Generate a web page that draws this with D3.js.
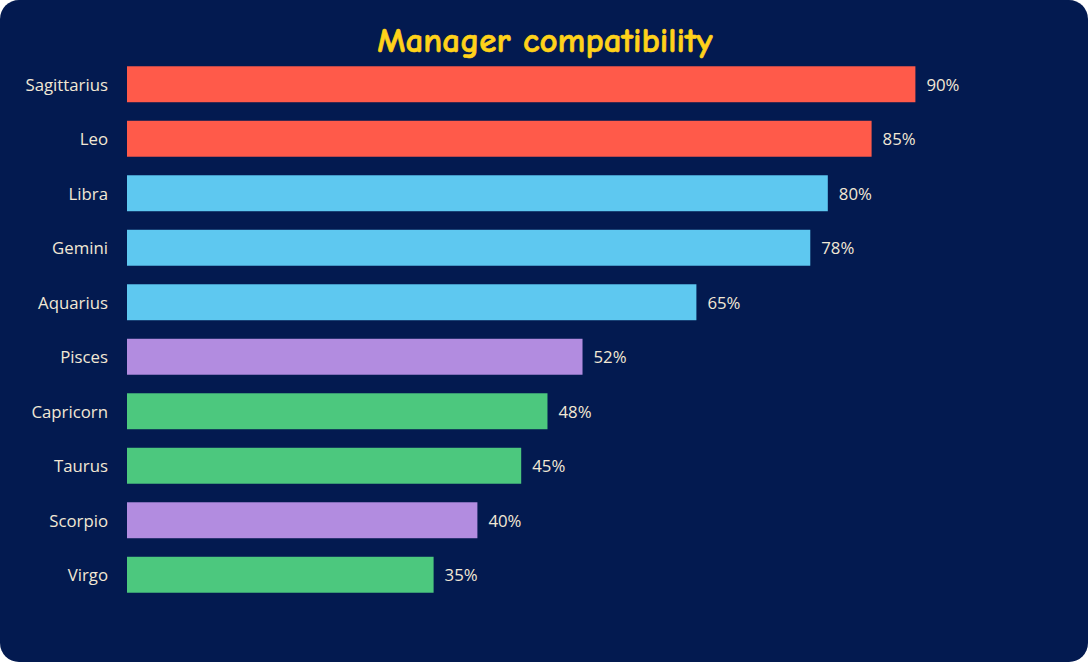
<!DOCTYPE html>
<html>
<head>
<meta charset="utf-8">
<script src="https://cdn.jsdelivr.net/npm/d3@7"></script>
<style>
  html, body { margin: 0; padding: 0; background: #fff; }
  svg { display: block; }
</style>
</head>
<body>
<div id="chart"></div>
<script>
// data
var signs = ["Sagittarius", "Leo", "Libra", "Gemini", "Aquarius", "Pisces", "Capricorn", "Taurus", "Scorpio", "Virgo"];
var scores = [90, 85, 80, 78, 65, 52, 48, 45, 40, 35];
var groups = ["fire", "fire", "air", "air", "air", "water", "earth", "earth", "water", "earth"];
var groupColors = { fire: "#ff5a4a", air: "#5ec8f0", water: "#b28ce0", earth: "#4cc87e" };

var W = 1090, H = 664;

var svg = d3.select("#chart").append("svg")
  .attr("width", W)
  .attr("height", H);

// rounded navy panel
svg.append("rect")
  .attr("x", 0).attr("y", 0)
  .attr("width", W - 2).attr("height", H - 2)
  .attr("rx", 19).attr("ry", 19)
  .attr("fill", "#031a50");

svg.append("text")
  .attr("x", 545).attr("y", 52)
  .attr("text-anchor", "middle")
  .attr("fill", "#ffd21a")
  .attr("stroke", "#ffd21a")
  .attr("stroke-width", 0.6)
  .style("font-family", "'Comic Sans MS', 'Comic Neue', 'Chalkboard', 'DejaVu Sans', sans-serif")
  .style("font-weight", "bold")
  .style("font-size", "35px")
  .text("Manager compatibility");

var x = d3.scaleLinear().domain([0, 100]).range([127, 1003]);
var y = d3.scaleBand().domain(signs).range([57, 602]).paddingInner(0.34).paddingOuter(0.17);

var rows = signs.map(function (s, i) {
  return { sign: s, value: scores[i], group: groups[i] };
});

svg.selectAll(".bar")
  .data(rows)
  .enter().append("rect")
  .attr("class", "bar")
  .attr("x", x(0))
  .attr("y", function (d) { return y(d.sign); })
  .attr("width", function (d) { return x(d.value) - x(0); })
  .attr("height", y.bandwidth())
  .attr("fill", function (d) { return groupColors[d.group]; });

// category axis, no line or ticks
var yAxis = svg.append("g")
  .attr("transform", "translate(" + x(0) + ",0)")
  .call(d3.axisLeft(y).tickSize(0).tickPadding(19));
yAxis.select(".domain").remove();
yAxis.selectAll("text")
  .attr("fill", "#f2e8d5")
  .attr("dy", "0.4em")
  .style("font-family", "'Open Sans', sans-serif")
  .style("font-size", "16.8px");

svg.selectAll(".val")
  .data(rows)
  .enter().append("text")
  .attr("class", "val")
  .attr("x", function (d) { return x(d.value) + 11; })
  .attr("y", function (d) { return y(d.sign) + y.bandwidth() / 2; })
  .attr("dy", "0.4em")
  .attr("fill", "#f2e8d5")
  .style("font-family", "'Open Sans', sans-serif")
  .style("font-size", "16.8px")
  .text(function (d) { return d.value + "%"; });
</script>
</body>
</html>
